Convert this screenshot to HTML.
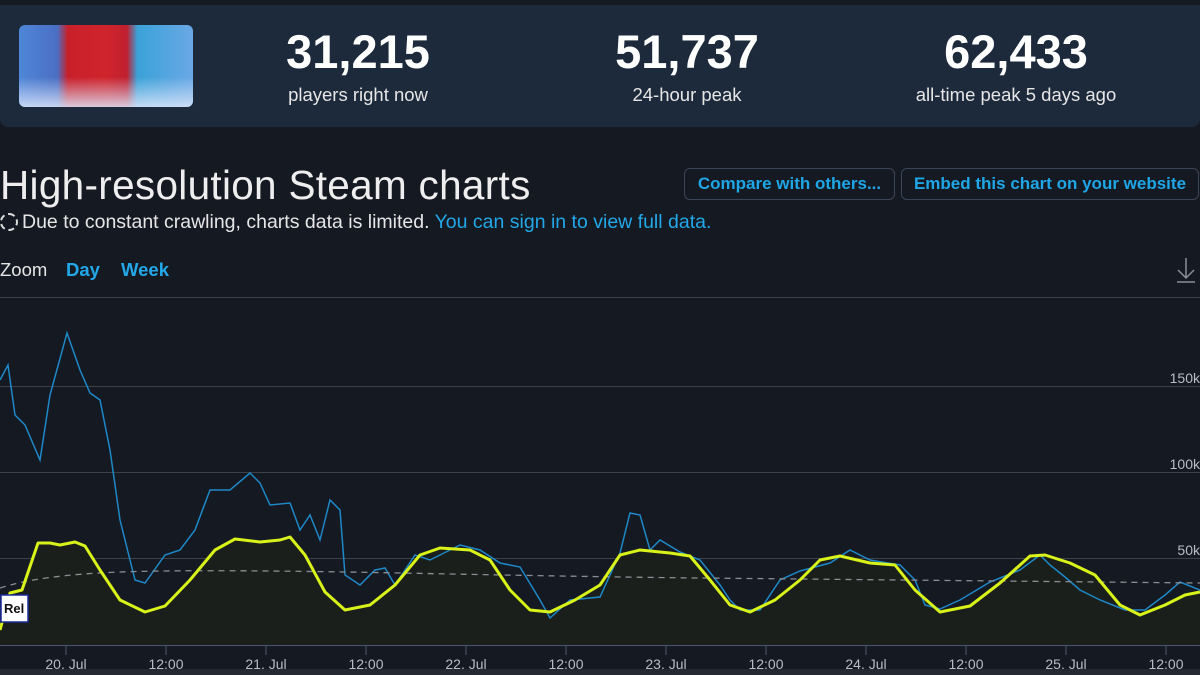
<!DOCTYPE html>
<html><head><meta charset="utf-8"><style>
*{margin:0;padding:0;box-sizing:border-box}
body{width:1200px;height:675px;background:#151922;font-family:"Liberation Sans",sans-serif;color:#e8e8e8;position:relative;overflow:hidden}
.hdr{position:absolute;left:0;top:5px;width:1200px;height:122px;background:#1d2a3b;border-radius:0 0 8px 8px}
.img{position:absolute;left:19px;top:25px;width:174px;height:82px;border-radius:6px;background:linear-gradient(90deg,#4f86d8 0%,#4a6fc4 22%,#c8202a 28%,#d0242c 50%,#c02030 62%,#3aa2d8 68%,#6aa8e6 100%);overflow:hidden}
.img:after{content:"";position:absolute;left:0;right:0;bottom:0;height:30px;background:linear-gradient(180deg,rgba(220,230,250,0),rgba(220,230,250,.85))}
.st{position:absolute;top:26px;text-align:center;width:260px}
.st b{display:block;font-size:47px;font-weight:bold;color:#fff;line-height:52px}
.st span{display:block;font-size:18.5px;color:#e6e6e6;margin-top:6px}
h1{position:absolute;left:0;top:162px;font-size:40.5px;font-weight:normal;color:#eee;letter-spacing:0.3px}
.note{position:absolute;left:0;top:211px;font-size:19.5px;color:#e6e6e6}
.note a{color:#22a8e8}
.btn{position:absolute;top:168px;height:32px;border:1px solid #3a4658;border-radius:6px;color:#1fa6e6;font-weight:bold;font-size:17px;line-height:30px;text-align:center}
.zoom{position:absolute;top:259px;font-size:18.5px}
</style></head><body>
<div class="hdr"></div>
<div class="img"></div>
<div class="st" style="left:228px"><b>31,215</b><span>players right now</span></div>
<div class="st" style="left:557px"><b>51,737</b><span>24-hour peak</span></div>
<div class="st" style="left:886px"><b>62,433</b><span>all-time peak 5 days ago</span></div>
<h1>High-resolution Steam charts</h1>
<div class="note"><span style="display:inline-block;width:18px;height:18px;border:2px dashed #ddd;border-radius:50%;vertical-align:-3px;margin-right:4px"></span>Due to constant crawling, charts data is limited. <a>You can sign in to view full data.</a></div>
<div class="btn" style="left:684px;width:211px">Compare with others...</div>
<div class="btn" style="left:901px;width:298px">Embed this chart on your website</div>
<div class="zoom" style="left:0;color:#e6e6e6">Zoom</div>
<div class="zoom" style="left:66px;color:#22a8e8;font-weight:bold">Day</div>
<div class="zoom" style="left:121px;color:#22a8e8;font-weight:bold">Week</div>
<svg style="position:absolute;left:0;top:0" width="1200" height="675">
<g stroke="#8a8f98" stroke-width="1.5" fill="none"><path d="M1186 258v20M1178 270l8 8 8-8M1177 282h18"/></g>
<g stroke="#3c414a" stroke-width="1"><line x1="0" y1="297.5" x2="1200" y2="297.5"/><line x1="0" y1="386.5" x2="1200" y2="386.5"/><line x1="0" y1="472.5" x2="1200" y2="472.5"/><line x1="0" y1="558.5" x2="1200" y2="558.5"/></g>
<line x1="0" y1="645.5" x2="1200" y2="645.5" stroke="#4a5670"/>
<g stroke="#4a5670"><path d="M66 645v10M166 645v10M266 645v10M366 645v10M466 645v10M566 645v10M666 645v10M766 645v10M866 645v10M966 645v10M1066 645v10M1166 645v10"/></g>
<g font-size="14" fill="#b8bcc4" text-anchor="middle"><text x="66" y="669">20. Jul</text><text x="166" y="669">12:00</text><text x="266" y="669">21. Jul</text><text x="366" y="669">12:00</text><text x="466" y="669">22. Jul</text><text x="566" y="669">12:00</text><text x="666" y="669">23. Jul</text><text x="766" y="669">12:00</text><text x="866" y="669">24. Jul</text><text x="966" y="669">12:00</text><text x="1066" y="669">25. Jul</text><text x="1166" y="669">12:00</text></g>
<g font-size="14" fill="#b8bcc4" text-anchor="end"><text x="1200" y="383">150k</text><text x="1200" y="469">100k</text><text x="1200" y="555">50k</text><text x="1200" y="642">0</text></g>
<path d="M0 630L10 593L22 590L38 543L50 543L60 545L75 542L85 546L100 570L120 600L145 612L165 606L190 580L215 550L235 539L260 542L280 540L290 537L305 555L325 592L345 610L370 605L395 585L420 555L440 548L470 550L490 560L510 590L530 610L550 612L575 600L600 585L620 555L640 550L670 553L690 556L710 580L730 605L750 612L775 600L800 580L820 560L840 556L870 563L895 565L915 590L940 612L970 606L1000 583L1030 556L1045 555L1070 563L1095 575L1120 605L1140 615L1165 605L1185 595L1200 592L1200 645L0 645Z" fill="#1a1f1c"/>
<path d="M0 380L8 365L15 415L25 425L40 460L50 395L67 333L80 370L90 393L100 400L110 450L120 520L135 580L145 583L165 555L180 550L195 530L210 490L230 490L250 473L260 483L270 505L290 503L300 530L310 515L320 540L330 500L340 510L345 575L360 585L375 570L385 568L395 585L415 555L430 560L460 545L480 550L500 563L520 567L540 600L550 618L570 600L600 597L620 553L630 513L640 515L650 550L660 540L680 552L700 560L720 585L730 600L740 610L760 610L780 580L800 571L830 563L850 550L870 560L900 565L915 580L925 605L940 609L960 600L990 582L1000 578L1020 570L1040 555L1050 565L1065 577L1080 590L1100 600L1125 610L1145 610L1165 595L1180 582L1200 590" fill="none" stroke="#1e88c8" stroke-width="1.5"/>
<path d="M0 588Q40 575 120 572T400 573T700 578T1200 583" fill="none" stroke="#8a8d92" stroke-width="1.3" stroke-dasharray="6 5"/>
<path d="M0 630L10 593L22 590L38 543L50 543L60 545L75 542L85 546L100 570L120 600L145 612L165 606L190 580L215 550L235 539L260 542L280 540L290 537L305 555L325 592L345 610L370 605L395 585L420 555L440 548L470 550L490 560L510 590L530 610L550 612L575 600L600 585L620 555L640 550L670 553L690 556L710 580L730 605L750 612L775 600L800 580L820 560L840 556L870 563L895 565L915 590L940 612L970 606L1000 583L1030 556L1045 555L1070 563L1095 575L1120 605L1140 615L1165 605L1185 595L1200 592" fill="none" stroke="#d9f21a" stroke-width="3" stroke-linejoin="round"/>
<rect x="1" y="595" width="27" height="27" fill="#fff" stroke="#1a2a9a" stroke-width="1.5"/>
<text x="4" y="613" font-size="13" font-weight="bold" fill="#111">Rel</text>
<rect x="0" y="669" width="1200" height="6" fill="#252a32"/>
</svg>
</body></html>
